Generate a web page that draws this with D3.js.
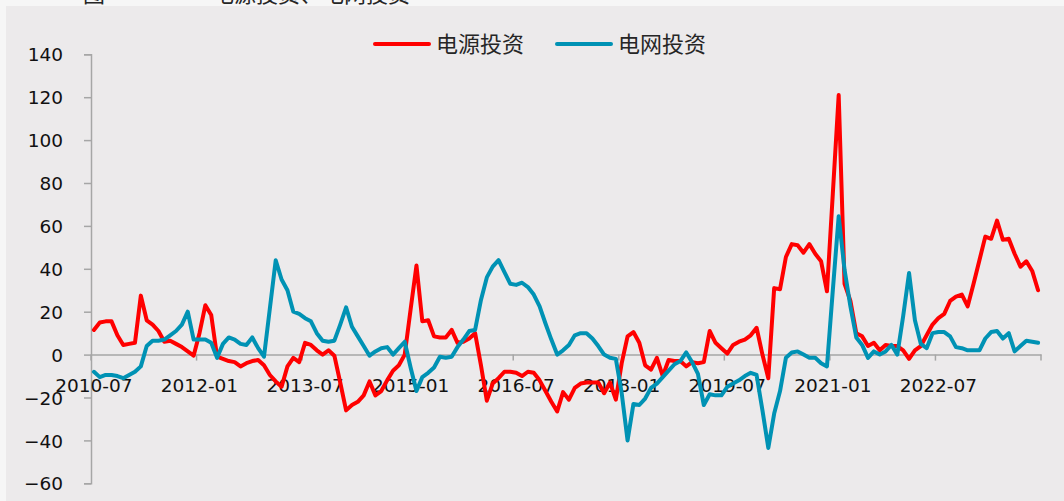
<!DOCTYPE html>
<html>
<head>
<meta charset="utf-8">
<script src="https://cdn.jsdelivr.net/npm/d3@7"></script>
<style>
  html, body { margin: 0; padding: 0; background: #f6f6f6; }
  #chart { width: 1064px; height: 501px; }
  .tickLabel { font-family: "DejaVu Sans", sans-serif; font-size: 18.5px; fill: #111; }
  .legendText { font-family: "Noto Sans CJK SC", sans-serif; font-size: 22px; fill: #262626; }
</style>
</head>
<body>
<div id="chart"></div>
<script>
"use strict"

// monthly categories, 2010-07 .. 2023-12
let months = [];
for (let y = 2010; y <= 2023; y++) {
	for (let m = (y == 2010 ? 7 : 1); m <= 12; m++) {
		months.push(y + "-" + (m < 10 ? "0" + m : m));
	}
}

let seriesNames = ["电源投资", "电网投资"];
let seriesColors = ["#ff0000", "#0092b4"];

// 电源投资 growth, %
let powerSource = [
	11.5, 15, 15.5, 15.5, 9, 4.5, 5, 5.5, 27.5, 16,
	14, 11, 6, 6.5, 5, 3.5, 1.5, -0.5, 10, 23,
	18.5, -1, -2, -3, -3.5, -5.5, -4, -3, -2.5, -5,
	-9.5, -12.5, -15, -5.5, -1.5, -3.5, 5.5, 4.5, 2, 0,
	2, -0.5, -13, -26, -23.5, -22, -19, -12.5, -19, -17,
	-12, -7.5, -5, 0, 21, 41.5, 15.5, 16, 8.5, 8,
	8, 11.5, 5.5, 6, 7.5, 10, -5, -21.5, -13.5, -11,
	-8, -8, -8.5, -10, -8, -8.5, -12, -17, -22, -26.5,
	-17.5, -21, -15.5, -13.5, -13, -13, -13, -18, -13, -21,
	-4, 8.5, 10.5, 5.5, -5, -7, -1.5, -10, -2.5, -3,
	-3, -5.5, -3.5, -4, -3.5, 11, 5.5, 3, 0.5, 4.5,
	6, 7, 9, 12.5, 0, -11, 31, 30.5, 45.5, 51.5,
	51, 47.5, 51.5, 47, 43.5, 29.5, 75, 121, 33, 25,
	10, 8.5, 4, 5.5, 2, 4.5, 4, 4, 2, -2,
	2, 4, 9, 14, 17, 19, 25, 27, 28, 22.5,
	33, 44, 55, 54, 62.5, 53.5, 54, 47, 41, 43.5,
	39, 30
];

// 电网投资 growth, %
let powerGrid = [
	-8, -10.5, -9.5, -9.5, -10, -11, -9.5, -8, -5.5, 4,
	6.5, 6.5, 7, 9, 11, 14, 20, 7, 7, 7,
	5.5, -1.5, 5, 8, 7, 5, 4.5, 8, 3, -1,
	21.5, 44, 35, 30, 20, 19, 17, 15.5, 10, 6.5,
	6, 6.5, 14, 22, 13, 8.5, 4, -0.5, 1.5, 3,
	3.5, 0, 3, 6, -6, -17, -10.5, -8.5, -6, -1,
	-1.5, -1, 3.5, 7, 11, 11.5, 25.5, 36, 41, 44,
	38.5, 33, 32.5, 33.5, 31.5, 28, 22.5, 14.5, 7, 0,
	2, 4.5, 9, 10, 10, 7.5, 4, 0, -1.5, -2,
	-18, -40, -23, -23.5, -20.5, -15.5, -13.5, -10.5, -7.5, -4.5,
	-3, 1, -3.5, -9, -23.5, -18.5, -19, -19, -15, -13.5,
	-12, -10, -8.5, -9.5, -26, -43.5, -27.5, -17, -1.5, 1,
	1.5, 0, -1.5, -1.5, -4, -5.5, 30, 64.5, 39.5, 22.5,
	8, 4.5, -1.5, 1.5, 0, 1.5, 4.5, 0, 18, 38,
	16, 5, 3, 10, 10.5, 10.5, 8.5, 3.5, 3, 2,
	2, 2, 7.5, 10.5, 11, 7.5, 10, 1.5, 4, 6.5,
	6, 5.5
];

let yTicks = [-60, -40, -20, 0, 20, 40, 60, 80, 100, 120, 140];
let labelEvery = 18;

let ChartView = function(targetID) {
	let self = {
		target: null,
		svg: null,
		totalWidth: 1064,
		totalHeight: 501,
		xScale: d3.scaleBand().padding(0),
		yScale: d3.scaleLinear(),
	};

	function draw() {
		self.target = d3.select(targetID);
		self.svg = self.target.append("svg")
			.attr("width", self.totalWidth)
			.attr("height", self.totalHeight);

		// frame: light strip on top/left, plot panel behind
		self.svg.append("rect")
			.attr("width", self.totalWidth).attr("height", self.totalHeight)
			.attr("fill", "#f6f6f6");
		self.svg.append("rect")
			.attr("x", 6).attr("y", 6)
			.attr("width", self.totalWidth - 6).attr("height", self.totalHeight - 6)
			.attr("fill", "#eceaeb");

		// title, cut off by the top edge
		self.svg.append("text")
			.attr("x", 83).attr("y", 2)
			.attr("class", "legendText")
			.attr("font-size", 24)
			.attr("fill", "#111")
			.text("图");
		self.svg.append("text")
			.attr("x", 212).attr("y", 2)
			.attr("class", "legendText")
			.attr("font-size", 22)
			.attr("fill", "#111")
			.text("电源投资、电网投资");

		self.xScale.domain(months).range([91, 1041]);
		self.yScale.domain([-60, 140]).range([483.3, 54.3]);

		let bw = self.xScale.bandwidth();

		// y axis
		let yAxis = self.svg.append("g")
			.attr("transform", "translate(91,0)")
			.call(d3.axisLeft(self.yScale).tickValues(yTicks).tickSize(7).tickPadding(21).tickSizeOuter(7));
		yAxis.selectAll("path, line").attr("stroke", "#a6a6a6").attr("stroke-width", 1.5);
		yAxis.selectAll("text").attr("class", "tickLabel").attr("dy", "0.36em");

		// x axis along zero
		let y0 = self.yScale(0);
		let xTickVals = months.filter((d, i) => i % labelEvery == 0);
		let xAxis = self.svg.append("g")
			.attr("transform", "translate(0," + y0 + ")")
			.call(d3.axisBottom(self.xScale).tickValues(xTickVals).tickSize(0).tickPadding(24));
		xAxis.select(".domain").attr("stroke", "#a6a6a6").attr("stroke-width", 1.5);
		xAxis.selectAll("text").attr("class", "tickLabel");

		let bounds = xTickVals.map(d => self.xScale(d)).concat([self.xScale.range()[1]]);
		self.svg.append("g").selectAll("line")
			.data(bounds)
			.enter().append("line")
				.attr("x1", d => d).attr("x2", d => d)
				.attr("y1", y0).attr("y2", y0 + 6)
				.attr("stroke", "#a6a6a6")
				.attr("stroke-width", 1.5);

		// lines
		let line = d3.line()
			.x((d, i) => self.xScale(months[i]) + bw / 2)
			.y(d => self.yScale(d));

		[powerSource, powerGrid].forEach((s, k) => {
			self.svg.append("path")
				.datum(s)
				.attr("fill", "none")
				.attr("stroke", seriesColors[k])
				.attr("stroke-width", 4)
				.attr("stroke-linejoin", "round")
				.attr("stroke-linecap", "round")
				.attr("d", line);
		});

		drawLegend();
	}

	function drawLegend() {
		let pos = [375, 557];
		let legend = self.svg.append("g")
			.selectAll("g")
			.data(seriesNames)
			.enter().append("g")
				.attr("transform", (d, i) => "translate(" + pos[i] + ",44)");

		legend.append("line")
			.attr("x1", 0).attr("x2", 54)
			.attr("stroke", (d, i) => seriesColors[i])
			.attr("stroke-width", 4)
			.attr("stroke-linecap", "round");

		legend.append("text")
			.attr("x", 61)
			.attr("dy", "0.36em")
			.attr("class", "legendText")
			.text(d => d);
	}

	return { draw };
};

ChartView("#chart").draw();
</script>
</body>
</html>
